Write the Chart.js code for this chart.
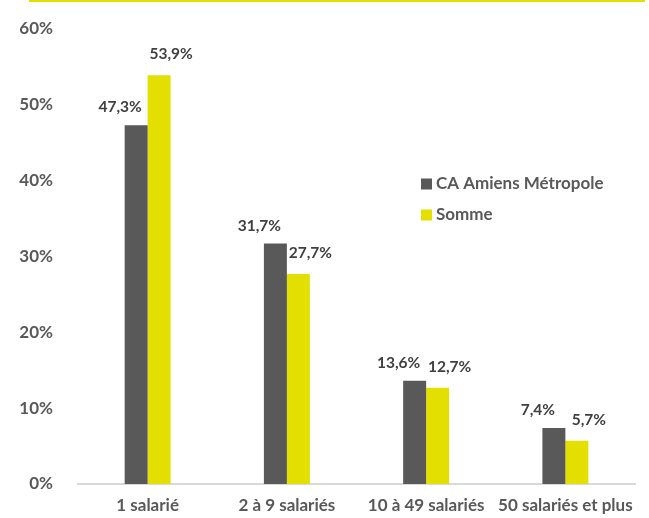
<!DOCTYPE html>
<html>
<head>
<meta charset="utf-8">
<script src="https://cdn.jsdelivr.net/npm/chart.js@4"></script>
<style>
  html, body { margin: 0; padding: 0; background: #fff; }
  #wrap { position: relative; width: 649px; height: 518px; }
  #topline { position: absolute; left: 29px; top: 0; width: 616px; height: 2px; background: #e3df00; }
  canvas { display: block; }
</style>
</head>
<body>
<div id="wrap">
  <div id="topline"></div>
  <canvas id="chart" width="649" height="518"></canvas>
</div>
<script>
// categories and values
const categories = ['1 salarié', '2 à 9 salariés', '10 à 49 salariés', '50 salariés et plus']
const amiensValues = [47.3, 31.7, 13.6, 7.4]
const sommeValues = [53.9, 27.7, 12.7, 5.7]
const seriesNames = ['CA Amiens Métropole', 'Somme']
const seriesColors = ['#595959', '#e3df00']
const yMax = 60
const yStep = 10

const FONT = 'Lato, "Liberation Sans", sans-serif'
const TEXT = '#595959'

function pct (v) {
    return v.toFixed(1).replace('.', ',') + '%'
}

// value labels, shifted a bit like in the original (dark left, yellow right)
const valueLabels = {
    id: 'valueLabels',
    afterDatasetsDraw (chart) {
        const ctx = chart.ctx
        const shift = [[-16, 18], [12, 21]]
        ctx.save()
        ctx.font = 'bold 15.5px ' + FONT
        ctx.fillStyle = '#404040'
        ctx.textAlign = 'center'
        ctx.textBaseline = 'middle'
        chart.data.datasets.forEach((ds, i) => {
            chart.getDatasetMeta(i).data.forEach((bar, j) => {
                ctx.fillText(pct(ds.data[j]), bar.x + shift[i][0], bar.y - shift[i][1])
            })
        })
        ctx.restore()
    }
}

// legend drawn inside the plot, right of the second group
const boxLegend = {
    id: 'boxLegend',
    afterDraw (chart) {
        const ctx = chart.ctx
        ctx.save()
        ctx.font = 'bold 17px ' + FONT
        ctx.textBaseline = 'middle'
        chart.data.datasets.forEach((ds, i) => {
            const y = 184 + i * 31
            ctx.fillStyle = ds.backgroundColor
            ctx.fillRect(421, y - 5.5, 11, 11)
            ctx.fillStyle = TEXT
            ctx.fillText(ds.label, 436, y)
        })
        ctx.restore()
    }
}

let data = {
    labels: categories,
    datasets: [{
        label: seriesNames[0],
        data: amiensValues,
        backgroundColor: seriesColors[0]
    },
    {
        label: seriesNames[1],
        data: sommeValues,
        backgroundColor: seriesColors[1]
    }]
}

let chart = new Chart(document.getElementById('chart'), {
    type: 'bar',
    data: data,
    options: {
        responsive: false,
        animation: false,
        devicePixelRatio: 1,
        layout: { padding: { top: 29, right: 14, left: 0, bottom: 0 } },
        datasets: {
            bar: { categoryPercentage: 0.33, barPercentage: 1 }
        },
        plugins: {
            legend: { display: false },
            tooltip: { enabled: false }
        },
        scales: {
            x: {
                grid: { display: false },
                border: { display: true, color: '#d9d9d9', width: 2 },
                ticks: {
                    color: TEXT,
                    padding: 3,
                    maxRotation: 0,
                    autoSkip: false,
                    font: { family: FONT, size: 17, weight: 'bold' }
                },
                afterFit (scale) { scale.height = 34 }
            },
            y: {
                min: 0,
                max: yMax,
                grid: { display: false },
                border: { display: false },
                ticks: {
                    stepSize: yStep,
                    color: TEXT,
                    padding: 17,
                    font: { family: FONT, size: 17, weight: 'bold' },
                    callback: v => v + '%'
                },
                afterFit (scale) { scale.width = 78 }
            }
        }
    },
    plugins: [valueLabels, boxLegend]
})
</script>
</body>
</html>
